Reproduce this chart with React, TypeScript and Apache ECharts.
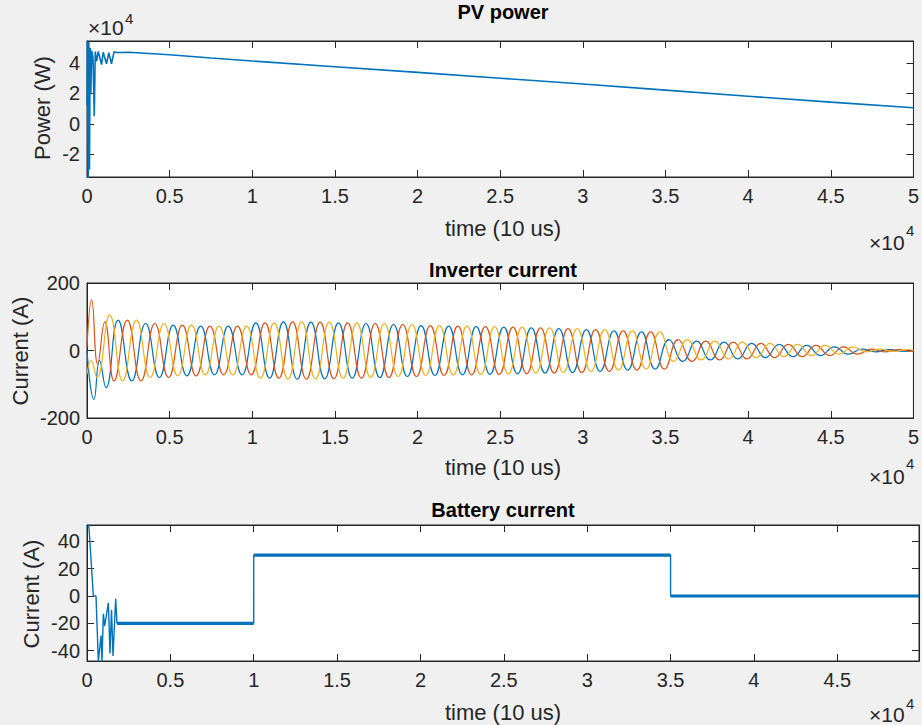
import React, { useEffect, useRef } from "react";
import * as echarts from "echarts";

// ---------- data ----------
const xTickLabels = ["0", "0.5", "1", "1.5", "2", "2.5", "3", "3.5", "4", "4.5", "5"];

// PV power (W) vs time (10 us)
const pvTime = [0, 30, 70, 110, 150, 190, 230, 280, 360, 440, 500, 580, 680, 880, 980, 1180, 1320, 1480, 1640, 1780,
  2500, 5000, 7500, 10000, 15000, 20000, 25000, 30000, 35000, 40000, 45000, 50000];
const pvPower = [12000, 55000, -36000, 54000, -30000, 50000, 20000, 48000, 44000, 5000, 47500, 41000, 47600, 38900, 47000, 39500, 46800, 39500, 47400, 46900,
  47000, 45400, 43300, 41300, 37500, 33800, 30000, 26200, 22200, 18200, 14300, 10600];

// Inverter current: amplitude of each 60 Hz cycle (A), read from the envelope
const invCycleAmp = [100, 90, 80, 75, 72, 72, 82, 85, 84, 82, 80, 77, 74, 72, 71, 69, 67, 65, 62, 58, 55, 32, 28, 25, 21, 18, 15, 11, 4, 3];
const invCycleLen = 1666.67; // samples per cycle
// start-up transient extremes per phase
const phaseATransT = [0, 420, 760, 1150];
const phaseATransV = [0, -145, -30, -110];
const phaseBTransT = [0, 280, 650, 1080, 1640];
const phaseBTransV = [10, 150, -40, 85, -90];
const phaseCTransT = [0, 250, 600, 1380];
const phaseCTransV = [-70, -30, -80, 105];
// first steady extreme of each phase (time, sign)
const phaseSteadyStart = [1880, 2436, 2158];
const phaseSteadySign = [1, 1, -1];

// Battery current (A)
const batTransT = [0, 120, 380, 540, 680, 840, 900, 980, 1060, 1150, 1280, 1380, 1470, 1560, 1720, 1800];
const batTransV = [55, 50, 0, 0, -48, -29, -48, -13, -22, -15, -5, -42, -10, -44, -2, -20];
const batLevelStart = [1800, 10000, 35000];
const batLevelEnd = [10000, 35000, 49900];
const batLevelValue = [-20, 30, 0];

// ---------- helpers ----------
const FONT = '"Liberation Sans", Arial, Helvetica, sans-serif';
const AX = "#262626";
const BLUE = "#0072BD";
const RED = "#D95319";
const YELLOW = "#EDB120";

function buildPhase(tt: number[], vv: number[], start: number, sign: number) {
  const pts: number[][] = tt.map((t, i) => [t, vv[i]]);
  let s = sign;
  for (let t = start; t <= 50000; t += invCycleLen / 2) {
    const k = Math.min(invCycleAmp.length - 1, Math.floor(t / invCycleLen));
    pts.push([t, s * invCycleAmp[k]]);
    s = -s;
  }
  pts.push([50000, 0]);
  return pts;
}

const grids = [
  { left: 87, top: 41, width: 833, height: 136 },
  { left: 87, top: 283, width: 833, height: 135 },
  { left: 87, top: 525, width: 833, height: 136 },
];
const xMax = [50000, 50000, 49900];
const yMin = [-34800, -200, -47.6];
const yMax = [54400, 200, 52];
const yStep = [20000, 200, 20];

function xFmt(v: number) {
  if (Math.abs(v % 5000) > 1e-6) return "";
  return xTickLabels[Math.round(v / 5000)] ?? "";
}

export default function App() {
  const ref = useRef<HTMLDivElement>(null);
  useEffect(() => {
    if (!ref.current) return;
    const chart = echarts.init(ref.current, undefined, { renderer: "svg" });

    const xAxis: any[] = [];
    const yAxis: any[] = [];
    grids.forEach((g, i) => {
      const baseX = {
        type: "value", gridIndex: i, min: 0, max: xMax[i], interval: 5000,
        axisLine: { show: true, onZero: false, lineStyle: { color: AX, width: 1 } },
        axisTick: { show: true, inside: true, length: 7, lineStyle: { color: AX } },
        splitLine: { show: false },
      };
      xAxis.push({
        ...baseX, position: "bottom",
        axisLabel: { show: true, margin: 9, color: AX, fontSize: 20, fontFamily: FONT, formatter: xFmt, showMinLabel: true, showMaxLabel: true },
      });
      xAxis.push({ ...baseX, position: "top", axisLabel: { show: false } });
      const baseY: any = {
        type: "value", gridIndex: i, min: yMin[i], max: yMax[i],
        axisLine: { show: true, onZero: false, lineStyle: { color: AX, width: 1 } },
        axisTick: { show: true, inside: true, length: 7, lineStyle: { color: AX } },
        splitLine: { show: false },
      };
      if (i === 1) baseY.interval = 200; else baseY.splitNumber = 5;
      const step = yStep[i];
      const div = i === 0 ? 10000 : 1;
      yAxis.push({
        ...baseY, position: "left",
        axisLabel: {
          show: true, margin: 7, color: AX, fontSize: 20, fontFamily: FONT,
          formatter: (v: number) => (Math.abs(v % step) > 1e-6 ? "" : String(Math.round(v / div))),
        },
      });
      yAxis.push({ ...baseY, position: "right", axisLabel: { show: false } });
    });

    const pvData = pvTime.map((t, i) => [t, pvPower[i]]);
    const phaseA = buildPhase(phaseATransT, phaseATransV, phaseSteadyStart[0], phaseSteadySign[0]);
    const phaseB = buildPhase(phaseBTransT, phaseBTransV, phaseSteadyStart[1], phaseSteadySign[1]);
    const phaseC = buildPhase(phaseCTransT, phaseCTransV, phaseSteadyStart[2], phaseSteadySign[2]);

    const batData: any[] = batTransT.map((t, i) => [t, batTransV[i]]);
    const batBand: any[] = [];
    batLevelStart.forEach((s, i) => {
      batData.push([s, batLevelValue[i]], [batLevelEnd[i], batLevelValue[i]]);
      batBand.push([s, batLevelValue[i]], [batLevelEnd[i], batLevelValue[i]], [null, null]);
    });

    const lineBase = { type: "line", showSymbol: false, symbol: "none", clip: true, silent: true };

    const series: any[] = [
      { ...lineBase, name: "PV", xAxisIndex: 0, yAxisIndex: 0, data: pvData, lineStyle: { color: BLUE, width: 1.6 } },
      { ...lineBase, name: "Ia", xAxisIndex: 2, yAxisIndex: 2, data: phaseA, smooth: 0.5, lineStyle: { color: BLUE, width: 1.2 } },
      { ...lineBase, name: "Ib", xAxisIndex: 2, yAxisIndex: 2, data: phaseB, smooth: 0.5, lineStyle: { color: RED, width: 1.2 } },
      { ...lineBase, name: "Ic", xAxisIndex: 2, yAxisIndex: 2, data: phaseC, smooth: 0.5, lineStyle: { color: YELLOW, width: 1.2 } },
      { ...lineBase, name: "Ibat", xAxisIndex: 4, yAxisIndex: 4, data: batData, lineStyle: { color: BLUE, width: 1.4 } },
      { ...lineBase, name: "IbatBand", xAxisIndex: 4, yAxisIndex: 4, data: batBand, connectNulls: false, lineStyle: { color: BLUE, width: 3.2 } },
    ];

    const txt = (text: string, x: number, y: number, size: number, opts: any = {}) => ({
      type: "text", x, y, rotation: opts.rotation ?? 0, silent: true,
      style: {
        text, fontSize: size, fontFamily: FONT, fontWeight: opts.bold ? "bold" : "normal",
        fill: opts.fill ?? AX, align: opts.align ?? "center", verticalAlign: opts.va ?? "middle",
      },
    });

    const graphic: any[] = [
      txt("PV power", 503, 12, 20, { bold: true, fill: "#000" }),
      txt("Inverter current", 503, 270, 20, { bold: true, fill: "#000" }),
      txt("Battery current", 503, 510, 20, { bold: true, fill: "#000" }),
      txt("time (10 us)", 503, 228, 22),
      txt("time (10 us)", 503, 467, 22),
      txt("time (10 us)", 503, 712, 22),
      txt("Power (W)", 42, 108, 22, { rotation: Math.PI / 2 }),
      txt("Current (A)", 20, 351, 22, { rotation: Math.PI / 2 }),
      txt("Current (A)", 31, 594, 22, { rotation: Math.PI / 2 }),
      // exponent labels
      txt("\u00d710", 88, 27, 21, { align: "left" }),
      txt("4", 125, 18, 15, { align: "left" }),
      txt("\u00d710", 869, 242, 21, { align: "left" }),
      txt("4", 906, 230, 15, { align: "left" }),
      txt("\u00d710", 869, 476, 21, { align: "left" }),
      txt("4", 906, 463, 15, { align: "left" }),
      txt("\u00d710", 869, 714, 21, { align: "left" }),
      txt("4", 906, 703, 15, { align: "left" }),
    ];

    chart.setOption({
      animation: false,
      backgroundColor: "#f0f0f0",
      grid: grids.map((g) => ({ ...g, show: true, backgroundColor: "#ffffff", borderColor: AX, borderWidth: 1, containLabel: false })),
      xAxis,
      yAxis,
      series,
      graphic,
    });
    return () => chart.dispose();
  }, []);
  return <div ref={ref} style={{ position: "absolute", left: 0, top: 0, width: 922, height: 725 }} />;
}
